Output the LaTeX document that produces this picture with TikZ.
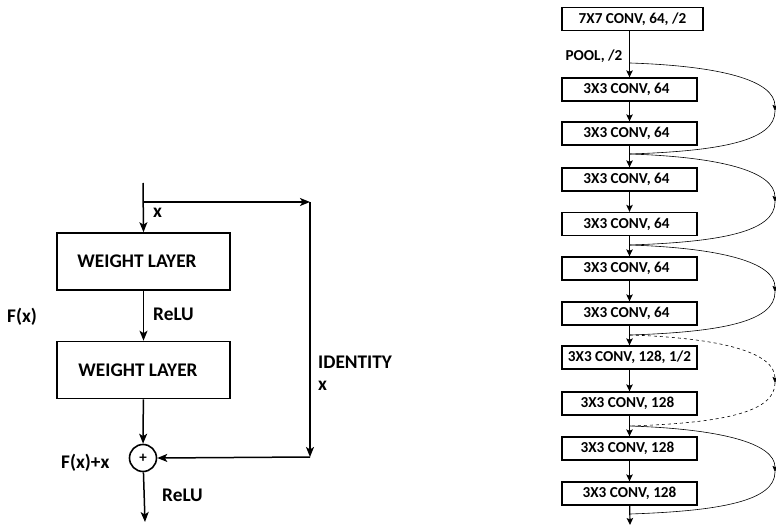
\documentclass[tikz,border=0pt]{standalone}
\usepackage{fontspec}
\setmainfont{Carlito}
\usetikzlibrary{arrows.meta,calc}
\begin{document}
\begin{tikzpicture}[x=1pt,y=-1pt,
  font=\bfseries,
  arr/.style={line width=1.5pt,-{Stealth[length=10pt,width=8pt,inset=2.5pt]}},
  bigbox/.style={draw,line width=1.6pt,minimum width=173pt,minimum height=57pt,inner sep=0pt,font=\fontsize{19.3}{21}\selectfont\bfseries},
  lab/.style={font=\fontsize{19.3}{21}\selectfont\bfseries,inner sep=0pt,anchor=west},
  cbox/.style={draw,line width=1.3pt,minimum width=135pt,minimum height=23pt,inner sep=0pt,font=\fontsize{15.2}{17}\selectfont\bfseries},
  sarr/.style={line width=1.2pt,-{Stealth[length=7pt,width=6.5pt,inset=1.5pt]}},
  skip/.style={line width=0.6pt},
  skiparr/.style={line width=0.6pt,-{Stealth[length=6pt,width=5pt,inset=1pt]}}
]
\path[use as bounding box] (0,0) rectangle (776,526);

% ---------------- left: residual block
\coordinate (in) at (143,183);
\coordinate (br) at (143,202);
\coordinate (c1) at (310,202);
\coordinate (c2) at (310,457);
\coordinate (out) at (145,522);
\node[bigbox] (w1) at (143.5,261.5) {WEIGHT LAYER\hspace*{13pt}};
\node[bigbox] (w2) at (143.5,370) {WEIGHT LAYER\hspace*{11pt}};
\node[draw,circle,line width=1.6pt,minimum size=27pt,inner sep=0pt,font=\fontsize{15}{15}\selectfont\bfseries] (plus) at (143,458) {+};

\draw[arr] (in) -- (w1.north);
\draw[arr] (br) -- (c1);
\draw[arr] (c1) -- (c2);
\draw[arr] (c2) -- (plus.east);
\draw[arr] (w1) -- (w2);
\draw[arr] (w2) -- (plus);
\draw[arr] (plus) -- (out);

\node[lab] (lx) at (153,213) {x};
\node[lab] (lrelu1) at (153,314) {ReLU};
\node[lab] (lfx) at (7,317) {F(x)};
\node[lab] (lfxx) at (61,463) {F(x)+x};
\node[lab] (lrelu2) at (162,495) {ReLU};
\node[lab] (lid) at (318,362) {IDENTITY};
\node[lab] (lidx) at (318,386) {x};

% ---------------- right: plain/residual stack
\node[cbox,minimum width=141pt] (c0) at (632.5,19) {7X7 CONV, 64, /2};
\node[cbox] (k1) at (629.5,89.5) {3X3 CONV, 64\hspace*{6pt}};
\node[cbox] (k2) at (629.5,133.5) {3X3 CONV, 64\hspace*{6pt}};
\node[cbox] (k3) at (629.5,179.5) {3X3 CONV, 64\hspace*{6pt}};
\node[cbox] (k4) at (629.5,224) {3X3 CONV, 64\hspace*{6pt}};
\node[cbox] (k5) at (629.5,268.5) {3X3 CONV, 64\hspace*{6pt}};
\node[cbox] (k6) at (629.5,313.5) {3X3 CONV, 64\hspace*{6pt}};
\node[cbox] (k7) at (629.5,357.5) {3X3 CONV, 128, 1/2};
\node[cbox] (k8) at (629.5,403.5) {3X3 CONV, 128\hspace*{4pt}};
\node[cbox] (k9) at (629.5,448.5) {3X3 CONV, 128\hspace*{4pt}};
\node[cbox] (k10) at (629.5,493.5) {3X3 CONV, 128};
\coordinate (kend) at (630,525);
\node[font=\fontsize{15.2}{17}\selectfont\bfseries,inner sep=0pt] (pool) at (594,56) {POOL, /2};

\draw[sarr] (c0.south -| k1.north) -- (k1.north);
\draw[sarr] (k1) -- (k2);
\draw[sarr] (k2) -- (k3);
\draw[sarr] (k3) -- (k4);
\draw[sarr] (k4) -- (k5);
\draw[sarr] (k5) -- (k6);
\draw[sarr] (k6) -- (k7);
\draw[sarr] (k7) -- (k8);
\draw[sarr] (k8) -- (k9);
\draw[sarr] (k9) -- (k10);
\draw[sarr] (k10) -- (kend);

\coordinate (j0) at (630,63);
\coordinate (j1) at (630,154);
\coordinate (j2) at (630,245);
\coordinate (j3) at (630,335);
\coordinate (j4) at (630,426);
\coordinate (j5) at (630,514);

\coordinate (m1) at (775,111);
\coordinate (m2) at (775,202);
\coordinate (m3) at (775,292);
\coordinate (m4) at (775,383);
\coordinate (m5) at (775,472);

\foreach \a/\m/\b/\st in {j0/m1/j1/solid, j1/m2/j2/solid, j2/m3/j3/solid, j3/m4/j4/dashed, j4/m5/j5/solid}{
  \draw[skiparr,\st] (\a) .. controls ($(\a)+(90,3)$) and ($(\a)+(145,17)$) .. (\m);
  \draw[skip,\st] (\m) .. controls ($(\b)+(145,-13)$) and ($(\b)+(90,-3)$) .. (\b);
}
\end{tikzpicture}
\end{document}
